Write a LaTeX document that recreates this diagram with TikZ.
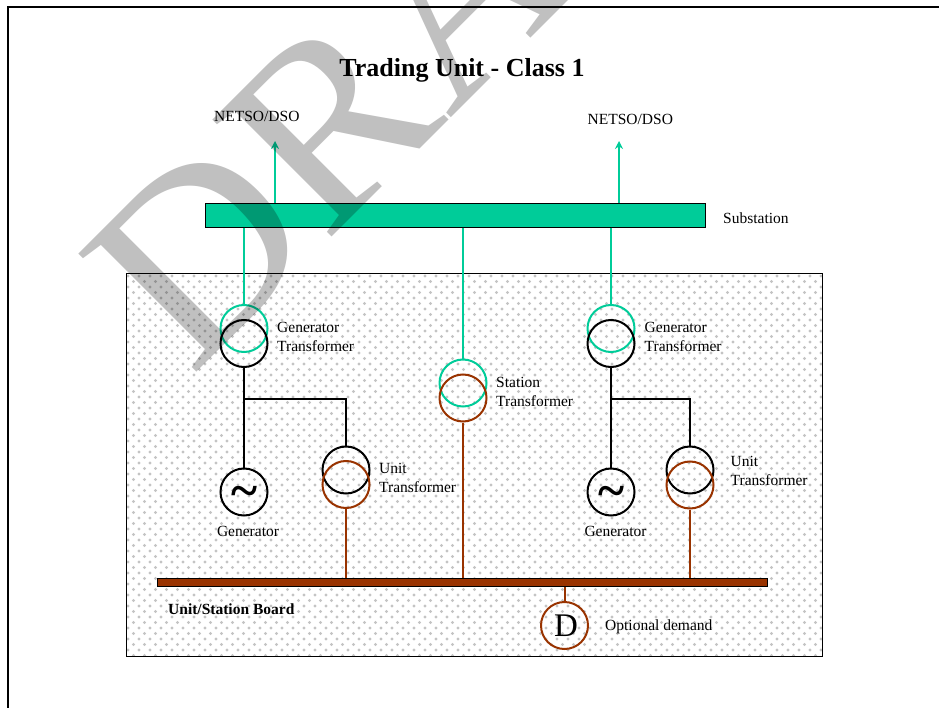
\documentclass[tikz,border=0pt]{standalone}
\usepackage{fontspec}
\setmainfont{Liberation Serif}
\usetikzlibrary{arrows.meta}
\definecolor{busgreen}{HTML}{00CC99}
\definecolor{busbrown}{HTML}{993300}
\definecolor{dotgray}{HTML}{C4C4C4}
\definecolor{markgray}{HTML}{C0C0C0}
\tikzset{
  x=1pt,y=-1pt,
  lbl/.style={anchor=west,inner sep=0,align=left,font=\fontsize{15.5}{19}\selectfont},
  ring/.style={circle,draw=#1,line width=2pt,minimum size=47pt,inner sep=0},
  bus/.style={draw=black,line width=1pt,fill=#1,inner sep=0},
  gline/.style={busgreen,line width=2pt},
  bline/.style={black,line width=2pt},
  rline/.style={busbrown,line width=2pt},
  arrowline/.style={gline,-{Stealth[length=8pt,width=8pt]}},
  tilde/.style={ring=black,font=\bfseries\fontsize{50}{50}\selectfont}
}
\newcommand{\gensym}{\raisebox{-15pt}[0pt][0pt]{\char"7E}}
\begin{document}
\begin{tikzpicture}
\useasboundingbox (0,0) rectangle (939,708);
\fill[white] (0,0) rectangle (939,708);
% outer frame
\coordinate (fa) at (8,708);
\coordinate (fb) at (8,7);
\coordinate (fc) at (939,7);
\draw[black,line width=2pt] (fa) -- (fb) -- (fc);
% dotted station area
\begin{scope}
\clip (126,273) rectangle (822.5,656);
\foreach \r in {0,...,35}{
  \foreach \c in {0,...,64}{
    \fill[dotgray] (128+11*\c,276+11*\r) circle (1.6pt)
      (133.5+11*\c,281.5+11*\r) circle (1.6pt);
  }
}
\end{scope}
\node[draw=black,line width=.9pt,minimum width=696pt,minimum height=383pt,inner sep=0,anchor=north west] (area) at (126,273) {};
% busbars
\node[bus=busgreen,minimum width=500.5pt,minimum height=24pt,anchor=north west] (sub) at (204.5,202.7) {};
\node[bus=busbrown,minimum width=610.5pt,minimum height=8pt,anchor=north west] (board) at (156.5,578) {};
% rings
\node[ring=busgreen] (gt1a) at (244,328.5) {};
\node[ring=black] (gt1b) at (244,343.5) {};
\node[ring=busgreen] (gt2a) at (611,328.5) {};
\node[ring=black] (gt2b) at (611,343.5) {};
\node[ring=busgreen] (sta) at (463,383) {};
\node[ring=busbrown] (stb) at (463,398) {};
\node[ring=black] (ut1a) at (346,470) {};
\node[ring=busbrown] (ut1b) at (346,484.5) {};
\node[ring=black] (ut2a) at (690,470) {};
\node[ring=busbrown] (ut2b) at (690,485) {};
\node[tilde] (g1) at (244,492) {\gensym};
\node[tilde] (g2) at (611,492) {\gensym};
\node[ring=busbrown,font=\fontsize{33}{33}\selectfont] (dem) at (564.5,625.5) {\hspace*{3pt}D};
% free ends of the arrows
\coordinate (to1) at (275,141);
\coordinate (to2) at (619,141);
% connectors
\draw[arrowline] (sub.north -| to1) -- (to1);
\draw[arrowline] (sub.north -| to2) -- (to2);
\draw[gline] (sub.south -| gt1a) -- (gt1a.north);
\draw[gline] (sub.south -| sta) -- (sta.north);
\draw[gline] (sub.south -| gt2a) -- (gt2a.north);
\draw[bline] (gt1b.south) -- (g1.north);
\draw[bline] (gt2b.south) -- (g2.north);
\coordinate (j1) at (244,399);
\coordinate (j2) at (611,399);
\draw[bline] (j1) -| (ut1a.north);
\draw[bline] (j2) -| (ut2a.north);
\draw[rline] (ut1b.south) -- (board.north -| ut1b);
\draw[rline] (stb.south) -- (board.north -| stb);
\draw[rline] (ut2b.south) -- (board.north -| ut2b);
\draw[rline] (board.south -| dem) -- (dem.north);
% labels
\node[anchor=center,inner sep=0,font=\bfseries\fontsize{26}{30}\selectfont] (title) at (462,70) {Trading Unit - Class 1};
\node[lbl] (n1) at (214,116) {NETSO/DSO};
\node[lbl] (n2) at (587.5,119) {NETSO/DSO};
\node[lbl] (ls) at (723,218) {Substation};
\node[lbl] (l1) at (277,337) {Generator\\Transformer};
\node[lbl] (l2) at (644.5,337) {Generator\\Transformer};
\node[lbl] (l3) at (496,392) {Station\\Transformer};
\node[lbl] (l4) at (379,478) {Unit\\Transformer};
\node[lbl] (l5) at (730.5,470.5) {Unit\\Transformer};
\node[lbl,anchor=center] (l6) at (248,531) {Generator};
\node[lbl,anchor=center] (l7) at (615.5,531) {Generator};
\node[lbl,font=\bfseries\fontsize{15.5}{19}\selectfont] (l8) at (168,609) {Unit/Station Board};
\node[lbl] (l9) at (605,627) {Optional demand};
% watermark
\begin{scope}
\clip (0,0) rectangle (939,708);
\begin{scope}[blend mode=multiply]
\node[anchor=base west,inner sep=0,rotate=45,text=markgray,font=\fontsize{255}{255}\selectfont] (mark) at (191,378) {\scalebox{1.03}[1]{DRA}};
\end{scope}
\end{scope}
\end{tikzpicture}
\end{document}
